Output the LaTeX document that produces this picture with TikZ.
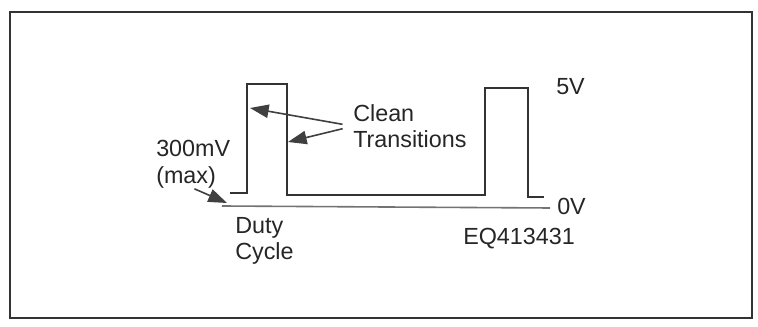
\documentclass[tikz,border=0pt]{standalone}
\usepackage{fontspec}
\setmainfont{Liberation Sans}
\usetikzlibrary{arrows.meta}
\begin{document}
\begin{tikzpicture}[x=0.75pt, y=-0.75pt,
  lbl/.style={inner sep=0pt, font=\fontsize{17.5}{20}\selectfont, text=black!85},
  wave/.style={line width=1.6pt, black!80, line join=miter},
  callout/.style={line width=1.2pt, black!75, -{Triangle[length=14pt,width=10pt]}}]
\useasboundingbox (0,0) rectangle (758,327);
\draw[line width=1.5pt, black!80] (10,12) rectangle (752,318);
\draw[line width=1.2pt, black!55] (222,206) -- (550,208);
\draw[wave] (230,193) -- (247,193) -- (247,84) -- (287,84) -- (287,195) -- (485,195) -- (485,88) -- (528,88) -- (528,197) -- (544,197);
\coordinate (risetip) at (250,108);
\coordinate (falltip) at (288,142);
\coordinate (lowtip) at (227,203);
\node[lbl, anchor=north west, align=left] (maxlbl) at (156,140) {300mV\\(max)};
\node[lbl, anchor=north west, align=left] (clean) at (353,104) {Clean\\Transitions};
\node[lbl, anchor=north west, align=left] (duty) at (235,217) {Duty\\Cycle};
\node[lbl, anchor=base west] (fivev) at (556,95) {5V};
\node[lbl, anchor=base west] (zerov) at (557,215) {0V};
\node[lbl, anchor=base west] (eq) at (463,245) {EQ413431};
\draw[callout, shorten <=8pt] (clean.west) -- (risetip);
\draw[callout, shorten <=8pt] (clean.west) -- (falltip);
\draw[callout, shorten <=1pt] (maxlbl.south) -- (lowtip);
\end{tikzpicture}
\end{document}
